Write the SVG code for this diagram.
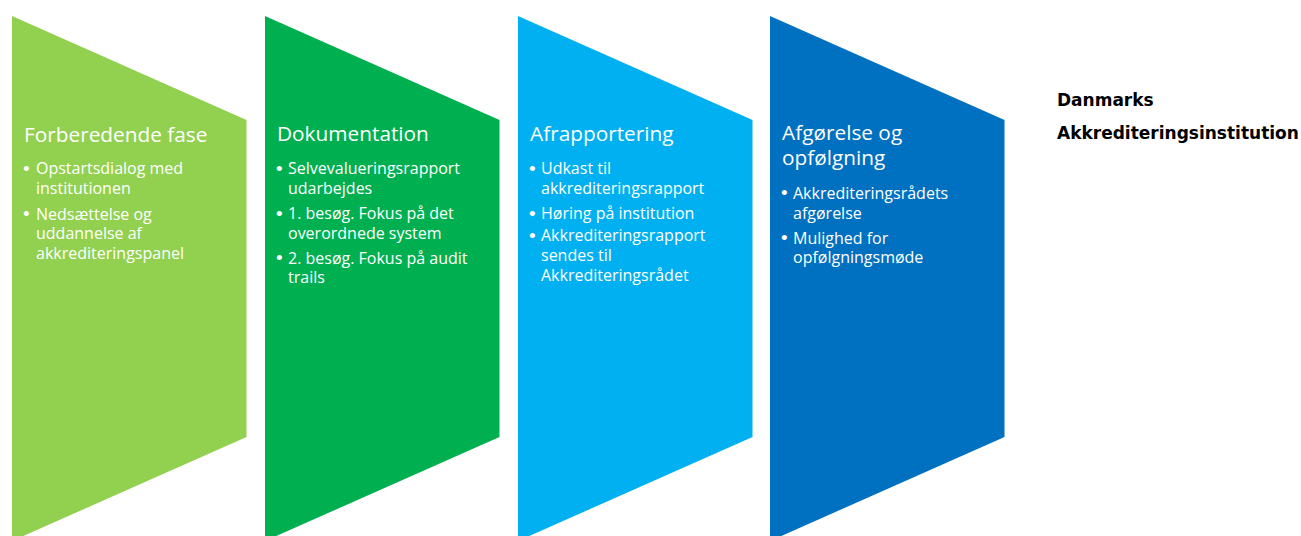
<svg xmlns="http://www.w3.org/2000/svg" width="1301" height="536" viewBox="0 0 1301 536">
<style>
.t{font-family:"Open Sans","Liberation Sans",sans-serif;fill:#fff;font-size:20.8px}
.b{font-family:"Open Sans","Liberation Sans",sans-serif;fill:#fff;font-size:16px}
.d{font-family:"Liberation Sans","Open Sans",sans-serif;fill:#fff;font-size:19px}
.h{font-family:"DejaVu Sans",Verdana,sans-serif;font-weight:bold;font-size:17px;fill:#000}
</style>
<defs>
<path id="shape" d="M0,16 L234.5,120 L234.5,437 L0,541 Z"/>
</defs>
<g id="phase1" transform="translate(12,0)">
<use href="#shape" fill="#92D050"/>
<text class="t" x="12" y="142">Forberedende fase</text>
<text class="d" x="11" y="174.5">•</text>
<text class="b" x="24" y="174">Opstartsdialog med</text>
<text class="b" x="24" y="193.5">institutionen</text>
<text class="d" x="11" y="220">•</text>
<text class="b" x="24" y="219.5">Nedsættelse og</text>
<text class="b" x="24" y="239">uddannelse af</text>
<text class="b" x="24" y="258.5">akkrediteringspanel</text>
</g>
<g id="phase2" transform="translate(265,0)">
<use href="#shape" fill="#00B050"/>
<text class="t" x="12" y="141">Dokumentation</text>
<text class="d" x="11" y="174.5">•</text>
<text class="b" x="23" y="174">Selvevalueringsrapport</text>
<text class="b" x="23" y="193.5">udarbejdes</text>
<text class="d" x="11" y="219.5">•</text>
<text class="b" x="23" y="219">1. besøg. Fokus på det</text>
<text class="b" x="23" y="238.5">overordnede system</text>
<text class="d" x="11" y="264">•</text>
<text class="b" x="23" y="263.5">2. besøg. Fokus på audit</text>
<text class="b" x="23" y="283">trails</text>
</g>
<g id="phase3" transform="translate(518,0)">
<use href="#shape" fill="#00B0F0"/>
<text class="t" x="12" y="141">Afrapportering</text>
<text class="d" x="11" y="174.5">•</text>
<text class="b" x="23" y="174">Udkast til</text>
<text class="b" x="23" y="193.5">akkrediteringsrapport</text>
<text class="d" x="11" y="219.5">•</text>
<text class="b" x="23" y="219">Høring på institution</text>
<text class="d" x="11" y="241.5">•</text>
<text class="b" x="23" y="241">Akkrediteringsrapport</text>
<text class="b" x="23" y="261">sendes til</text>
<text class="b" x="23" y="281">Akkrediteringsrådet</text>
</g>
<g id="phase4" transform="translate(770,0)">
<use href="#shape" fill="#0070C0"/>
<text class="t" x="12" y="140"><tspan x="12" y="140">Afgørelse og</tspan><tspan x="12" y="165">opfølgning</tspan></text>
<text class="d" x="11" y="199">•</text>
<text class="b" x="23" y="198.5">Akkrediteringsrådets</text>
<text class="b" x="23" y="218.5">afgørelse</text>
<text class="d" x="11" y="244">•</text>
<text class="b" x="23" y="243.5">Mulighed for</text>
<text class="b" x="23" y="263">opfølgningsmøde</text>
</g>
<g id="connectors"/>
<g id="org">
<text class="h" x="1057" y="106">Danmarks</text>
<text class="h" x="1057" y="139">Akkrediteringsinstitution</text>
</g>
</svg>
